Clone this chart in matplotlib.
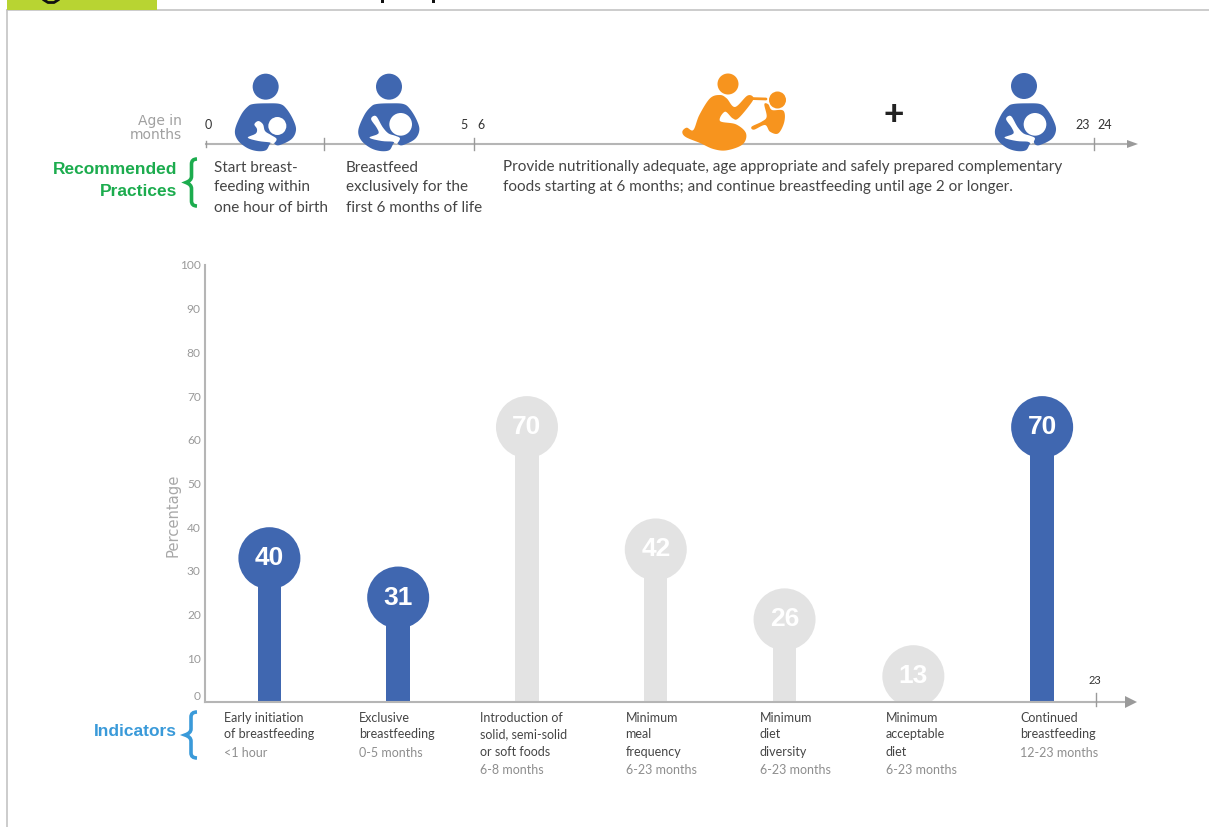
import numpy as np
import matplotlib
matplotlib.use("Agg")
import matplotlib.pyplot as plt
from matplotlib.patches import PathPatch, Circle, Polygon, Rectangle
from matplotlib.path import Path

# ---- data ----
values = [40, 31, 70, 42, 26, 13, 70]
highlight = [True, True, False, False, False, False, True]
indicator_lines = [
    ["Early initiation", "of breastfeeding"],
    ["Exclusive", "breastfeeding"],
    ["Introduction of", "solid, semi-solid", "or soft foods"],
    ["Minimum", "meal", "frequency"],
    ["Minimum", "diet", "diversity"],
    ["Minimum", "acceptable", "diet"],
    ["Continued", "breastfeeding"],
]
age_ranges = ["<1 hour", "0-5 months", "6-8 months", "6-23 months",
              "6-23 months", "6-23 months", "12-23 months"]
yticks = list(range(0, 101, 10))

BLUE, GREY, ORANGE = "#4067b0", "#e3e3e3", "#f7941e"
LIME, GREEN, SKY = "#b8d432", "#1cac4e", "#3a9ad9"
DARK, MID, AXIS = "#454545", "#8e8e8e", "#b5b5b5"
NARROW = ["Lato", "Liberation Sans"]
WIDE = ["Liberation Sans"]
SPREAD = ["DejaVu Sans"]

W, H = 1209, 827
fig = plt.figure(figsize=(W / 100, H / 100), dpi=100, facecolor="white")

# ---- pixel-space layer for the infographic decoration ----
deco = fig.add_axes([0, 0, 1, 1], zorder=3)
deco.set_xlim(0, W)
deco.set_ylim(H, 0)
deco.axis("off")
deco.patch.set_alpha(0)


def smooth(pts, n=10):
    p = np.array(pts, float)
    out = []
    m = len(p)
    for i in range(m):
        p0, p1, p2, p3 = p[(i - 1) % m], p[i], p[(i + 1) % m], p[(i + 2) % m]
        for t in np.linspace(0, 1, n, endpoint=False):
            out.append(0.5 * (2 * p1 + (p2 - p0) * t + (2 * p0 - 5 * p1 + 4 * p2 - p3) * t ** 2
                              + (3 * p1 - p0 - 3 * p2 + p3) * t ** 3))
    return np.array(out)


def blob(pts, ox, oy, color, z=4):
    q = smooth(pts) / 3 + np.array([ox, oy])
    deco.add_patch(Polygon(q, closed=True, fc=color, ec="none", zorder=z))


BODY = [(85, 117), (125, 115), (165, 117), (185, 132), (205, 165), (213, 195), (200, 222),
        (165, 240), (150, 238), (145, 226), (140, 228), (133, 240), (122, 256), (95, 258), (65, 248),
        (38, 225), (30, 195), (48, 150), (68, 125)]


def mother(ox, oy, dx, head, hole, hole_r, limb):
    blob([(x + dx, y) for x, y in BODY], ox, oy, BLUE)
    deco.add_patch(Circle((ox + head[0] / 3, oy + head[1] / 3), 13, fc=BLUE, ec="none", zorder=4))
    deco.add_patch(Circle((ox + hole[0] / 3, oy + hole[1] / 3), hole_r / 3, fc="white", ec="none", zorder=5))
    deco.add_patch(Polygon(smooth(limb, 4) / 3 + np.array([ox, oy]), closed=True, fc="white",
                           ec="none", zorder=5))


LIMB1 = [(88, 178), (100, 168), (114, 178), (120, 198), (138, 210), (155, 222), (145, 236), (133, 232),
         (100, 228), (68, 218), (92, 206), (96, 192)]
LIMB2 = [(63, 162), (78, 153), (97, 185), (115, 205), (135, 212), (150, 220), (140, 236), (128, 230),
         (95, 228), (58, 218), (85, 206), (80, 188)]
mother(225, 65, 0, (122, 65), (157, 183), 27, LIMB1)
mother(350, 65, -5, (117, 65), (152, 178), 34, LIMB2)
mother(985, 65, 0, (117, 63), (150, 178), 34, LIMB2)

# caregiver feeding infant
MUM = [(120, 100), (150, 90), (170, 100), (195, 126), (232, 92), (250, 97), (243, 115), (205, 160),
       (188, 160), (165, 140), (150, 168), (198, 178), (228, 205), (218, 238), (170, 256), (130, 252),
       (90, 234), (47, 216), (37, 200), (50, 188), (70, 195), (88, 150)]
INFANT = [(283, 118), (295, 118), (306, 135), (340, 137), (343, 170), (325, 205), (300, 200), (285, 180),
          (252, 194), (245, 185), (275, 170), (290, 155)]
blob(MUM, 670, 65, ORANGE)
blob(INFANT, 670, 65, ORANGE)
deco.add_patch(Circle((728, 84), 10.5, fc=ORANGE, ec="none", zorder=4))
deco.add_patch(Circle((777.5, 100), 8.5, fc=ORANGE, ec="none", zorder=4))
deco.plot([750, 766], [98.5, 99], color=ORANGE, lw=2, solid_capstyle="round", zorder=4)

# frame and header remnants
deco.plot([7, 7], [10, H], color="#c4c4c4", lw=1.2, zorder=1)
deco.plot([7, W], [10, 10], color="#c4c4c4", lw=1.2, zorder=1)
deco.add_patch(Rectangle((7, 0), 150, 10, fc=LIME, ec="none", zorder=2))
deco.plot([44, 48, 54, 58], [0, 2.5, 2.5, 0], color="#111111", lw=2, zorder=3)
for px in (382, 433):
    deco.add_patch(Rectangle((px - 1, 0), 2.5, 3, fc="#111111", ec="none", zorder=3))

# top age axis
deco.plot([206, 1127], [144, 144], color=AXIS, lw=1.5, zorder=2)
deco.add_patch(Polygon([(1127, 140), (1138, 144), (1127, 148)], fc="#9a9a9a", ec="none", zorder=2))
for px in (206, 324, 474, 1094):
    half = 3 if px == 206 else 6
    deco.plot([px, px], [144 - half, 144 + half], color="#9a9a9a", lw=1, zorder=2)
for txt, px in [("0", 208), ("5", 464), ("6", 481), ("23", 1083), ("24", 1105)]:
    deco.text(px, 125, txt, ha="center", va="center", fontsize=9, color="#333333", family=NARROW)
deco.text(182, 121, "Age in", ha="right", va="center", fontsize=10, color="#a0a0a0", family=SPREAD)
deco.text(182, 135, "months", ha="right", va="center", fontsize=10, color="#a0a0a0", family=SPREAD)
deco.text(894, 115, "+", ha="center", va="center", fontsize=25, color="#222222", family=WIDE, fontweight="bold")

# recommended practices
deco.text(177, 170, "Recommended", ha="right", va="center", fontsize=12.5, fontweight="bold", color=GREEN, family=WIDE)
deco.text(177, 192, "Practices", ha="right", va="center", fontsize=12.5, fontweight="bold", color=GREEN, family=WIDE)


def brace(x_tip, x_end, y0, y1, color):
    ym = (y0 + y1) / 2
    xm = (x_tip + x_end) / 2
    verts = [(x_end, y0), (xm, y0), (xm, y0 + 5), (xm, ym - 6), (xm, ym - 2), (x_tip, ym),
             (xm, ym + 2), (xm, ym + 6), (xm, y1 - 5), (xm, y1), (x_end, y1)]
    codes = [Path.MOVETO] + [Path.CURVE3] * 2 + [Path.LINETO] + [Path.CURVE3] * 4 + [Path.LINETO] + [Path.CURVE3] * 2
    deco.add_patch(PathPatch(Path(verts, codes), fc="none", ec=color, lw=2.6, zorder=3))


brace(186, 197, 159, 206, GREEN)
brace(185, 197, 712, 758, SKY)

practices = [
    (214, ["Start breast-", "feeding within", "one hour of birth"]),
    (346, ["Breastfeed", "exclusively for the", "first 6 months of life"]),
    (503, ["Provide nutritionally adequate, age appropriate and safely prepared complementary",
           "foods starting at 6 months; and continue breastfeeding until age 2 or longer."]),
]
for px, lines in practices:
    for j, line in enumerate(lines):
        deco.text(px, 167.5 + 20 * j, line, ha="left", va="center", fontsize=11, color=DARK, family=NARROW)

deco.text(177, 731, "Indicators", ha="right", va="center", fontsize=12.5, fontweight="bold", color=SKY, family=WIDE)

# indicator captions
label_x = [224, 359, 480, 625.5, 760, 886, 1020]
for px, lines, rng in zip(label_x, indicator_lines, age_ranges):
    for j, line in enumerate(lines):
        deco.text(px, 717.5 + 17 * j, line, ha="left", va="center", fontsize=9, color=DARK, family=NARROW)
    deco.text(px, 717.5 + 17.6 * len(lines), rng, ha="left", va="center", fontsize=9, color=MID, family=NARROW)

deco.text(1095, 680, "23", ha="center", va="center", fontsize=8, color="#333333", family=NARROW)
deco.plot([1096, 1096], [693, 706], color="#9a9a9a", lw=1, zorder=2)

# ---- the chart itself ----
L, R, B, T = 205, 1131, 702, 265
ax = fig.add_axes([L / W, 1 - B / H, (R - L) / W, (B - T) / H], zorder=2)
ax.set_ylim(0, 100)
ax.set_xlim(-0.5, 6.69)
ax.patch.set_alpha(0)
px_per_unit = (B - T) / 100
RADIUS_PX = 31
cats = np.arange(len(values))
cols = [BLUE if h else GREY for h in highlight]
centres = [v - RADIUS_PX / px_per_unit for v in values]
ax.bar(cats, centres, width=0.182, color=cols, zorder=2)
ax.scatter(cats, centres, s=(2 * RADIUS_PX * 0.72) ** 2, c=cols, linewidths=0, zorder=3)
for c, y, v in zip(cats, centres, values):
    ax.text(c, y, str(v), ha="center", va="center", color="white", fontsize=19, fontweight="bold",
            family=WIDE, zorder=4)
for s in ("top", "right"):
    ax.spines[s].set_visible(False)
for s in ("left", "bottom"):
    ax.spines[s].set_color(AXIS)
    ax.spines[s].set_linewidth(1.5)
    ax.spines[s].set_zorder(5)
ax.set_xticks([])
ax.set_yticks(yticks)
ax.set_yticklabels([str(t) for t in yticks], fontsize=8.6, color="#9a9a9a", family=NARROW)
ax.tick_params(axis="y", length=0, pad=3)
ax.get_yticklabels()[0].set_verticalalignment("bottom")
ax.plot([1.0], [0], marker=">", ms=8, mew=0, color="#9a9a9a", clip_on=False,
        transform=ax.get_yaxis_transform(), zorder=6)
deco.text(173, 515, "Percentage", rotation=90, ha="center", va="center", fontsize=10.6, color="#a8a8a8", family=SPREAD)

fig.savefig("out.png", dpi=100, facecolor="white")
